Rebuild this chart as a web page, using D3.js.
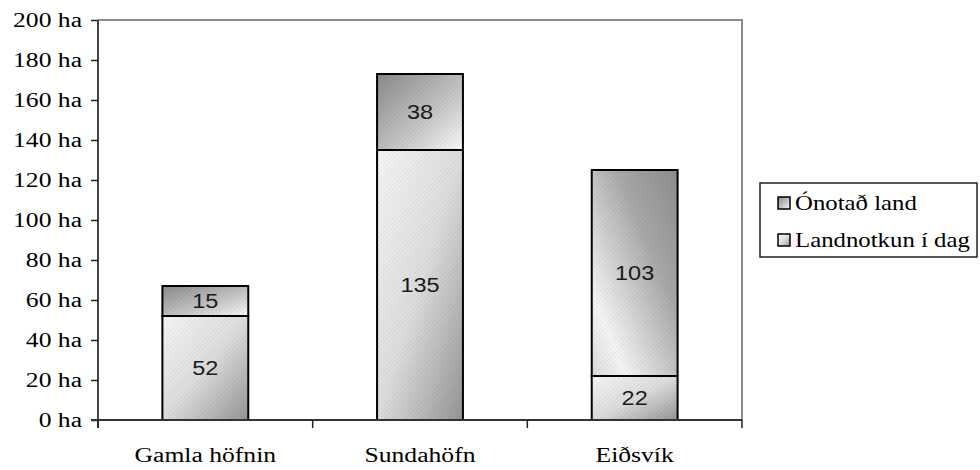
<!DOCTYPE html>
<html>
<head>
<meta charset="utf-8">
<script src="https://cdn.jsdelivr.net/npm/d3@7"></script>
<style>
  html, body { margin: 0; padding: 0; background: #fff; }
  svg { display: block; }
  .serif { font-family: 'Liberation Serif', 'Times New Roman', 'DejaVu Serif', serif; }
  .sans { font-family: 'Liberation Sans', Arial, 'DejaVu Sans', sans-serif; }
</style>
</head>
<body>
<svg id="chart" width="980" height="470"></svg>
<script>
// Land area per harbour site (hectares)
const categories = ["Gamla höfnin", "Sundahöfn", "Eiðsvík"];
const landInUse = [52, 135, 22];     // Landnotkun í dag
const unusedLand = [15, 38, 103];    // Ónotað land
const seriesNames = ["Landnotkun í dag", "Ónotað land"];
const yTicks = [0, 20, 40, 60, 80, 100, 120, 140, 160, 180, 200];

const svg = d3.select("#chart");
const margin = { left: 98, right: 238, top: 20, bottom: 50 };
const W = 980, H = 470;
const x0 = margin.left, x1 = W - margin.right;
const y0 = H - margin.bottom, y1 = margin.top;
const SX = 1.28;   // horizontal stretch of the lettering

const x = d3.scaleBand().domain(categories).range([x0, x1]).paddingInner(0.6).paddingOuter(0.3);
const xOuter = d3.scaleBand().domain(categories).range([x0, x1]);
const y = d3.scaleLinear().domain([0, 200]).range([y0, y1]);

// place a text at (px,py) stretched horizontally
function stretched(sel, px, py, sx) {
  return sel.attr("x", 0).attr("y", 0)
    .attr("transform", `translate(${px},${py}) scale(${sx},1)`);
}

// Gradient fills
const defs = svg.append("defs");
const gUse = defs.append("linearGradient").attr("id", "gUse")
  .attr("x1", 0).attr("y1", 0).attr("x2", 1).attr("y2", 1);
gUse.append("stop").attr("offset", 0).attr("stop-color", "#f7f7f7");
gUse.append("stop").attr("offset", 0.5).attr("stop-color", "#dedede");
gUse.append("stop").attr("offset", 1).attr("stop-color", "#959595");

const gFree = defs.append("linearGradient").attr("id", "gFree")
  .attr("x1", 1).attr("y1", 0).attr("x2", 0).attr("y2", 1);
gFree.append("stop").attr("offset", 0).attr("stop-color", "#8e8e8e");
gFree.append("stop").attr("offset", 0.35).attr("stop-color", "#a9a9a9");
gFree.append("stop").attr("offset", 0.8).attr("stop-color", "#f6f6f6");
gFree.append("stop").attr("offset", 1).attr("stop-color", "#dcdcdc");

const gFreeSmall = defs.append("linearGradient").attr("id", "gFreeSmall")
  .attr("x1", 0).attr("y1", 0).attr("x2", 1).attr("y2", 1);
gFreeSmall.append("stop").attr("offset", 0).attr("stop-color", "#8a8a8a");
gFreeSmall.append("stop").attr("offset", 0.6).attr("stop-color", "#c8c8c8");
gFreeSmall.append("stop").attr("offset", 1).attr("stop-color", "#fbfbfb");

// fine diagonal texture
const pat = defs.append("pattern").attr("id", "tex").attr("patternUnits", "userSpaceOnUse")
  .attr("width", 3).attr("height", 3).attr("patternTransform", "rotate(45)");
pat.append("rect").attr("width", 1).attr("height", 3).attr("fill", "#000").attr("opacity", 0.06);

// plot frame: top and right in gray
svg.append("path")
  .attr("d", `M${x0},${y1}H${x1}V${y0}`)
  .attr("fill", "none").attr("stroke", "#8c8c8c").attr("stroke-width", 2);

// stacked bars
const stacks = categories.map((c, i) => ({ c, use: landInUse[i], free: unusedLand[i] }));
const bars = svg.append("g");
stacks.forEach(d => {
  const bx = x(d.c), bw = x.bandwidth();
  const segs = [
    { lo: 0, hi: d.use, v: d.use, fill: "url(#gUse)" },
    { lo: d.use, hi: d.use + d.free, v: d.free,
      fill: (y(d.use) - y(d.use + d.free)) > 100 ? "url(#gFree)" : "url(#gFreeSmall)" }
  ];
  segs.forEach(s => {
    const top = y(s.hi), h = y(s.lo) - y(s.hi);
    bars.append("rect").attr("x", bx).attr("y", top).attr("width", bw).attr("height", h)
      .attr("fill", s.fill);
    bars.append("rect").attr("x", bx).attr("y", top).attr("width", bw).attr("height", h)
      .attr("fill", "url(#tex)").attr("stroke", "#000").attr("stroke-width", 2);
    stretched(bars.append("text"), bx + bw / 2, top + h / 2, 1.12)
      .attr("class", "sans")
      .attr("text-anchor", "middle").attr("dominant-baseline", "central")
      .attr("font-size", 21).attr("fill", "#1a1a1a")
      .text(s.v);
  });
});

// y axis
const yAxis = d3.axisLeft(y).tickValues(yTicks).tickSize(7).tickPadding(9)
  .tickFormat(d => d + " ha");
const gy = svg.append("g").attr("transform", `translate(${x0},0)`).call(yAxis);
gy.attr("font-family", null);
gy.select(".domain").attr("stroke", "#444").attr("stroke-width", 2)
  .attr("d", `M0,${y1}V${y0 + 8}`);
gy.selectAll(".tick line").attr("stroke", "#222").attr("stroke-width", 1.5);
gy.selectAll(".tick text").each(function () {
  stretched(d3.select(this), -16, 0, SX)
    .attr("dy", "0.34em").attr("class", "serif")
    .attr("font-size", 20).attr("fill", "#000");
});

// x axis
const gx = svg.append("g").attr("transform", `translate(0,${y0})`);
gx.append("line").attr("x1", x0 - 7).attr("x2", x1).attr("stroke", "#333").attr("stroke-width", 2);
const boundaries = [x0].concat(categories.map(c => xOuter(c) + xOuter.bandwidth()));
gx.selectAll(".xt").data(boundaries).join("line")
  .attr("x1", d => d).attr("x2", d => d).attr("y1", 0).attr("y2", 8)
  .attr("stroke", "#222").attr("stroke-width", 1.5);
gx.selectAll(".xl").data(categories).join("text")
  .each(function (d) {
    stretched(d3.select(this), xOuter(d) + xOuter.bandwidth() / 2, 42, SX);
  })
  .attr("class", "serif").attr("text-anchor", "middle")
  .attr("font-size", 20).attr("fill", "#000").text(d => d);

// legend
const lg = svg.append("g").attr("transform", "translate(760,183)");
lg.append("rect").attr("width", 217).attr("height", 74)
  .attr("fill", "#fff").attr("stroke", "#222").attr("stroke-width", 1.5);
const legendItems = [
  { name: seriesNames[1], fill: "url(#gFreeSmall)" },
  { name: seriesNames[0], fill: "url(#gUse)" }
];
legendItems.forEach((it, i) => {
  const cy = 20 + i * 37;
  lg.append("rect").attr("x", 18).attr("y", cy - 6).attr("width", 12).attr("height", 12)
    .attr("fill", it.fill).attr("stroke", "#000").attr("stroke-width", 1.5);
  stretched(lg.append("text"), 35, cy, 1.24)
    .attr("class", "serif").attr("dominant-baseline", "central")
    .attr("font-size", 20).attr("fill", "#000").text(it.name);
});
</script>
</body>
</html>
